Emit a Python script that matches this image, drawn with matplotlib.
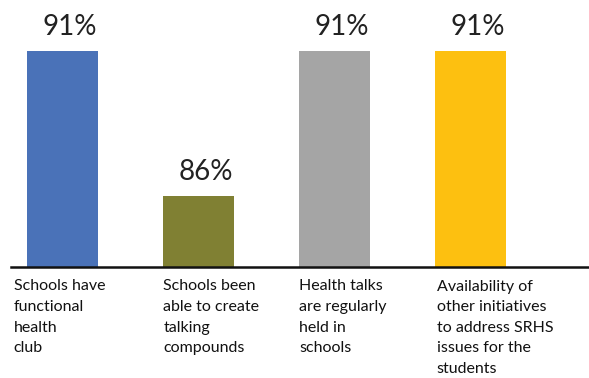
import matplotlib.pyplot as plt
import numpy as np

categories = [
    "Schools have\nfunctional\nhealth\nclub",
    "Schools been\nable to create\ntalking\ncompounds",
    "Health talks\nare regularly\nheld in\nschools",
    "Availability of\nother initiatives\nto address SRHS\nissues for the\nstudents",
]
values = [91, 86, 91, 91]
colors = ["#4A72B8", "#808033", "#A5A5A5", "#FDC010"]

plt.rcParams['font.family'] = ['Lato', 'DejaVu Sans']

fig = plt.figure(figsize=(5.89, 3.78), dpi=100)
ax = fig.add_axes([11 / 589, 1 - 267 / 378, 578 / 589, 267 / 378])

x = np.arange(len(values))
width = 0.52
bars = ax.bar(x, values, width=width, color=colors, zorder=2)

ax.set_ylim(83.54, 92.76)
ax.set_xlim(-0.38, 3.87)

for b, v in zip(bars, values):
    ax.annotate("{}%".format(v), (b.get_x() + b.get_width() / 2, v),
                xytext=(5, 8), textcoords='offset points',
                ha='center', va='bottom', fontsize=20, color='#222222')

label_shift = [-0.1, 0, 0, 0.01]
for i, lab in enumerate(categories):
    ax.annotate(lab, (x[i] - width / 2 + label_shift[i], 83.54),
                xytext=(0, -9), textcoords='offset points',
                ha='left', va='top', fontsize=11.5, color='#111111',
                linespacing=1.6, annotation_clip=False)

for s in ['top', 'right', 'left']:
    ax.spines[s].set_visible(False)
ax.spines['bottom'].set_linewidth(1.8)
ax.spines['bottom'].set_color('#111111')
ax.set_xticks([])
ax.set_yticks([])

fig.savefig("out.png", dpi=100)
